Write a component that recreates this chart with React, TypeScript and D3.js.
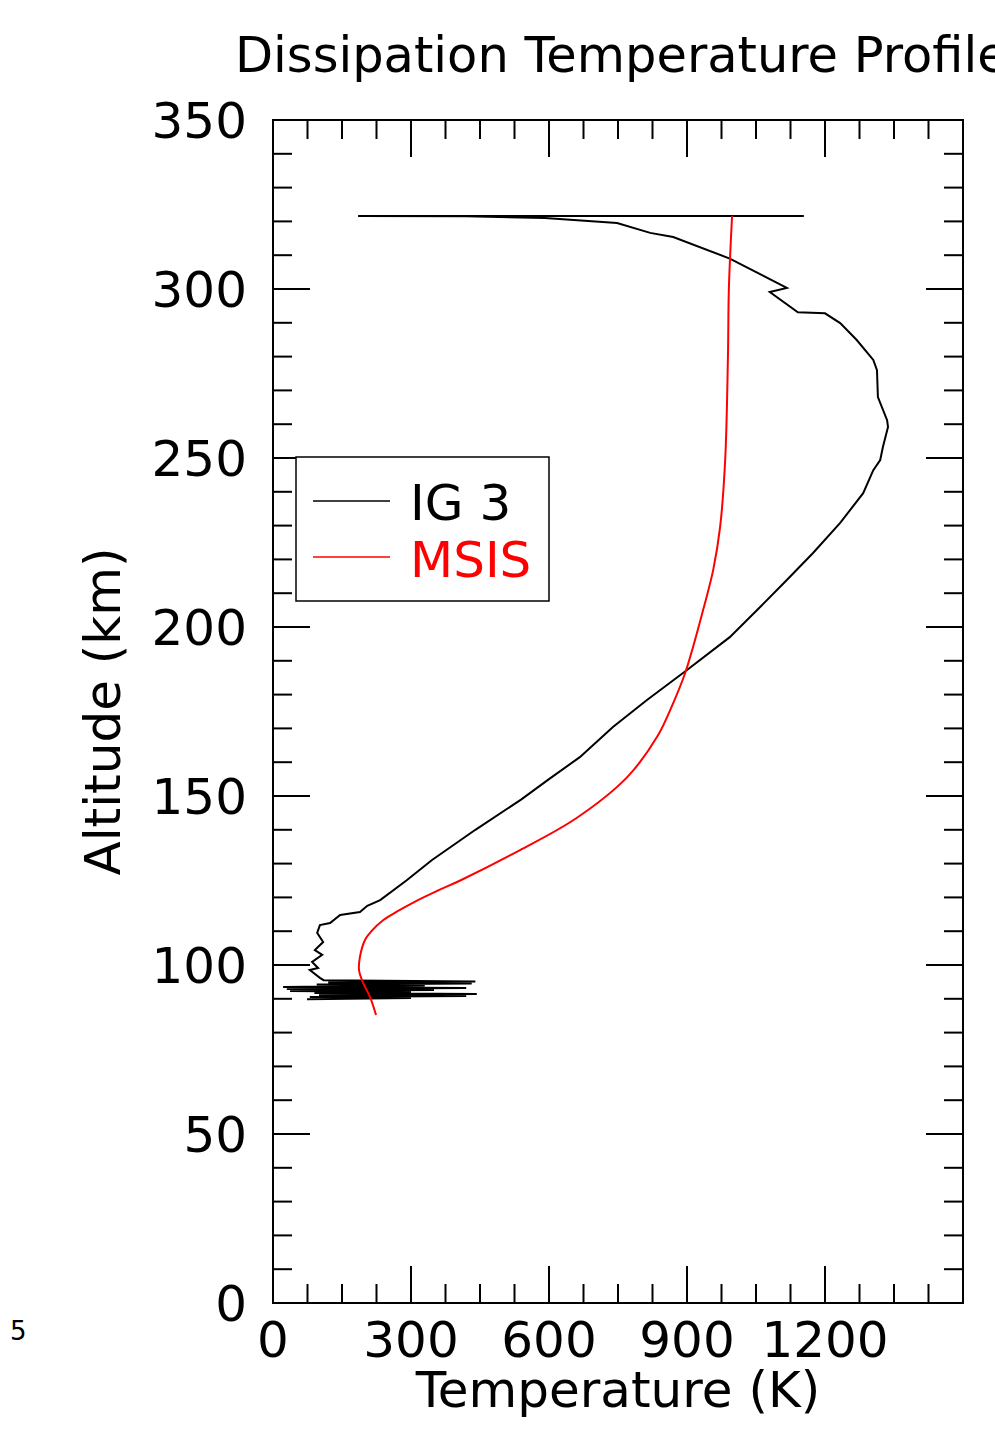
import React from 'react';
import * as d3 from 'd3';

// IG 3 dissipation profile, bottom to top
const igAlt = [
  89.9, 90.2, 90.5, 90.8, 91.1, 91.4, 91.7, 92.0, 92.3, 92.6, 92.9, 93.2, 93.5, 93.9, 94.2, 94.5, 94.8, 95.1, 95.5,
  96.2, 98.5, 99.1, 100.9, 103.0, 104.4, 106.8, 109.5, 111.8, 112.4, 114.8, 115.7, 117.5, 119.2,
  125, 131, 140, 149, 155, 161.5, 170.4, 178.4, 187.3, 197, 205.9, 213.9, 221.9, 230.8, 239.6,
  246.4, 249.4, 253.3, 259.2, 261.2, 268, 276, 279, 284.9, 289.9, 292.8, 293.1, 299.1, 300.3,
  309, 315.4, 316.6, 319.5, 321, 321.5, 321.6, 321.6,
];
const igTemp = [
  74, 300, 80, 420, 100, 443, 90, 300, 37, 350, 30, 420, 22, 330, 95, 432, 120, 440, 110,
  102, 80, 98, 85, 107, 91, 109, 96, 102, 124, 146, 189, 205, 233,
  290, 345, 440, 540, 600, 667, 739, 813, 900, 993, 1059, 1117, 1174, 1233, 1283,
  1305, 1320, 1326, 1337, 1335, 1315, 1313, 1305, 1269, 1233, 1200, 1141, 1080, 1117,
  993, 870, 820, 748, 591, 420, 185, 1154,
];

// MSIS model profile
const msisAlt = [85.2, 90.5, 94.7, 98.5, 102.4, 107.4, 110, 113.3, 116, 119, 122, 125, 134, 143.5, 155.6, 167.5, 177.5, 186.4, 194, 205, 216.9, 229.6, 249.4, 280, 300, 321.6];
const msisTemp = [224, 211, 196, 187, 189, 200, 214, 240, 272, 312, 358, 407, 537, 660, 770, 835, 870, 896, 913, 935, 957, 972, 983, 989, 991, 998];

const xMajor = [0, 300, 600, 900, 1200];
const yMajor = [0, 50, 100, 150, 200, 250, 300, 350];

const W = 995;
const H = 1453;
const font = 'DejaVu Sans';

export default function App() {
  const left = 273, right = 963, top = 120, bottom = 1303;
  const x = d3.scaleLinear().domain([0, 1500]).range([left, right]);
  const y = d3.scaleLinear().domain([0, 350]).range([bottom, top]);

  const ig = igAlt.map((a, i) => ({ a, t: igTemp[i] }));
  const msis = msisAlt.map((a, i) => ({ a, t: msisTemp[i] }));

  const line = d3.line<{ a: number; t: number }>().x(d => x(d.t)).y(d => y(d.a));
  const smooth = d3.line<{ a: number; t: number }>().x(d => x(d.t)).y(d => y(d.a)).curve(d3.curveCatmullRom);

  const xTicks = d3.range(0, 1501, 75);
  const yTicks = d3.range(0, 351, 10);
  const big = 37, small = 19;

  return (
    <div style={{ position: 'absolute', left: 0, top: 0 }}>
      <svg width={W} height={H} style={{ display: 'block', background: '#fff' }} fontFamily={font}>
        <text x={235} y={72} fontSize={49.5}>Dissipation Temperature Profile</text>
        <text x={10} y={1340} fontSize={26}>5</text>

        {/* ticks, mirrored on all four sides */}
        <g stroke="#000" strokeWidth={2}>
          {xTicks.map(t => {
            const len = t % 300 === 0 ? big : small;
            return (
              <g key={'x' + t}>
                <line x1={x(t)} x2={x(t)} y1={bottom} y2={bottom - len} />
                <line x1={x(t)} x2={x(t)} y1={top} y2={top + len} />
              </g>
            );
          })}
          {yTicks.map(t => {
            const len = t % 50 === 0 ? big : small;
            return (
              <g key={'y' + t}>
                <line x1={left} x2={left + len} y1={y(t)} y2={y(t)} />
                <line x1={right} x2={right - len} y1={y(t)} y2={y(t)} />
              </g>
            );
          })}
        </g>
        <rect x={left} y={top} width={right - left} height={bottom - top} fill="none" stroke="#000" strokeWidth={2} />

        <g fontSize={50} fill="#000">
          {xMajor.map(t => (
            <text key={t} x={x(t)} y={1357} textAnchor="middle">{t}</text>
          ))}
          {yMajor.map(t => (
            <text key={t} x={247} y={y(t) + 18} textAnchor="end">{t}</text>
          ))}
          <text x={(left + right) / 2} y={1407} textAnchor="middle">Temperature (K)</text>
          <text transform={`translate(120, ${(top + bottom) / 2}) rotate(-90)`} textAnchor="middle">Altitude (km)</text>
        </g>

        <path d={line(ig) || ''} fill="none" stroke="#000" strokeWidth={2} />
        <path d={smooth(msis) || ''} fill="none" stroke="#ff0000" strokeWidth={2} />

        {/* legend */}
        <rect x={296} y={457} width={253} height={144} fill="#fff" stroke="#000" strokeWidth={1.5} />
        <line x1={313} x2={390} y1={501} y2={501} stroke="#000" strokeWidth={1.5} />
        <line x1={313} x2={390} y1={557} y2={557} stroke="#ff0000" strokeWidth={1.5} />
        <text x={410} y={520} fontSize={50} fill="#000">IG 3</text>
        <text x={410} y={577} fontSize={50} fill="#ff0000">MSIS</text>
      </svg>
    </div>
  );
}
